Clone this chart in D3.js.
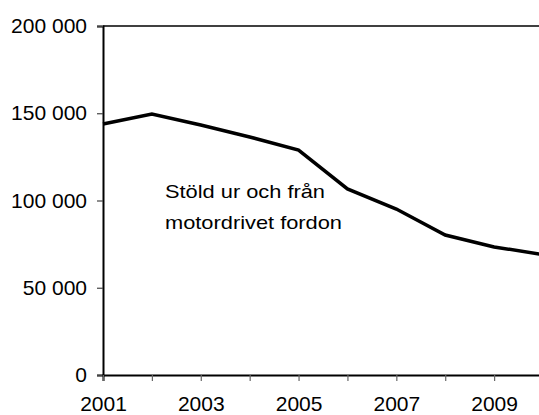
<!DOCTYPE html>
<html>
<head>
<meta charset="utf-8">
<script src="https://cdn.jsdelivr.net/npm/d3@7"></script>
<style>
  html, body { margin: 0; padding: 0; background: #fff; }
  svg { display: block; }
  text { font-family: "Liberation Sans", Arial, sans-serif; fill: #000; }
</style>
</head>
<body>
<svg id="chart" width="539" height="415"></svg>
<script>
// Data
const years = [2001, 2002, 2003, 2004, 2005, 2006, 2007, 2008, 2009, 2010];
const values = [143800, 149600, 143300, 136400, 128900, 106600, 95100, 80200, 73400, 69000];
const yTickValues = [0, 50000, 100000, 150000, 200000];
const xLabelYears = [2001, 2003, 2005, 2007, 2009];
const annotationLines = ["Stöld ur och från", "motordrivet fordon"];

(function () {
const svg = d3.select("#chart");
const plotLeft = 103, plotRight = 543, plotTop = 26, plotBottom = 375;

const x = d3.scaleLinear().domain([2001, 2010]).range([plotLeft, plotRight]);
const y = d3.scaleLinear().domain([0, 200000]).range([plotBottom, plotTop]);

const locale = d3.formatLocale({ decimal: ",", thousands: " ", grouping: [3], currency: ["", ""] });
const fmt = locale.format(",d");

// Top border of plot area
svg.append("line")
  .attr("x1", plotLeft).attr("x2", 539)
  .attr("y1", y(200000)).attr("y2", y(200000))
  .attr("stroke", "#000").attr("stroke-width", 1.6);

// Y axis
const yAxis = svg.append("g")
  .attr("transform", `translate(${plotLeft},0)`)
  .call(d3.axisLeft(y).tickValues(yTickValues).tickSize(6).tickPadding(10).tickFormat(fmt));
yAxis.select(".domain").attr("stroke", "#000").attr("stroke-width", 2);
yAxis.selectAll(".tick line").attr("stroke", "#444").attr("stroke-width", 1.2);
yAxis.selectAll(".tick text")
  .style("font-size", "21px")
  .attr("font-family", "Liberation Sans, Arial, sans-serif")
  .attr("fill", "#000");

// X axis
const xAxis = svg.append("g")
  .attr("transform", `translate(0,${plotBottom})`)
  .call(d3.axisBottom(x).tickValues(years).tickSize(6).tickPadding(15)
    .tickFormat(d => xLabelYears.includes(d) ? String(d) : ""));
xAxis.select(".domain").attr("stroke", "#000").attr("stroke-width", 2);
xAxis.selectAll(".tick line").attr("stroke", "#666").attr("stroke-width", 1.2);
xAxis.selectAll(".tick text")
  .style("font-size", "21px")
  .attr("font-family", "Liberation Sans, Arial, sans-serif")
  .attr("fill", "#000");

// Line
const line = d3.line()
  .x((d, i) => x(years[i]))
  .y(d => y(d));
svg.append("path")
  .datum(values)
  .attr("fill", "none")
  .attr("stroke", "#000")
  .attr("stroke-width", 3.5)
  .attr("stroke-linejoin", "miter")
  .attr("d", line);

// Annotation
const ann = svg.append("g");
ann.append("text")
  .attr("x", 165).attr("y", 198)
  .style("font-size", "18.5px")
  .attr("textLength", 160).attr("lengthAdjust", "spacingAndGlyphs")
  .text(annotationLines[0]);
ann.append("text")
  .attr("x", 165).attr("y", 229)
  .style("font-size", "18.5px")
  .attr("textLength", 177).attr("lengthAdjust", "spacingAndGlyphs")
  .text(annotationLines[1]);
})();
</script>
</body>
</html>
